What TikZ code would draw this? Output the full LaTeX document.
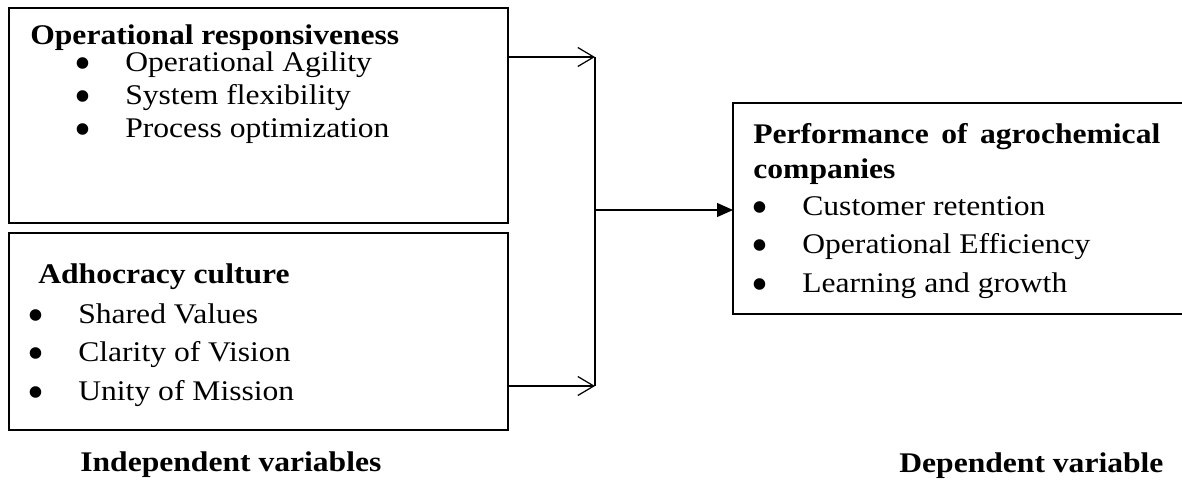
\documentclass[tikz,border=0pt]{standalone}
\usepackage{fontspec}
\setmainfont[FakeStretch=1.11]{Liberation Serif}
\newfontfamily\bltfont{Liberation Serif}
\usetikzlibrary{arrows.meta}

\newcommand{\blt}{\makebox[1.68cm][c]{\bltfont\raisebox{-0.16cm}[0pt][0pt]{\scalebox{1.7}{\textbullet}}}}

\tikzset{
    varbox/.style={draw, line width=1.1pt, inner sep=0pt, outer sep=0pt, anchor=north west},
    txt/.style={anchor=base west, inner sep=0pt, font=\fontsize{16.2}{18}\selectfont},
    head/.style={txt, font=\fontsize{16.2}{18}\selectfont\bfseries},
    link/.style={line width=0.7pt},
}

\begin{document}
\begin{tikzpicture}[x=0.02cm, y=-0.02cm]
            \useasboundingbox (0,0) rectangle (1182,480);

            % variable boxes
            \node[varbox, minimum width=9.98cm, minimum height=4.3cm]  (resp)  at (9,8)     {};
            \node[varbox, minimum width=9.98cm, minimum height=3.94cm] (adhoc) at (9,233)   {};
            \node[varbox, minimum width=9.1cm,  minimum height=4.22cm] (perf)  at (733,103) {};

            % box texts
            \node[head] (resptitle) at (30,44) {Operational responsiveness};
            \foreach \lbl [count=\i] in {Operational Agility, System flexibility, Process optimization}
                \node[txt] (resp\i) at (41,{38+33*\i}) {\blt\lbl};

            \node[head] (adhoctitle) at (38,283) {Adhocracy culture};
            \foreach \lbl [count=\i] in {Shared Values, Clarity of Vision, Unity of Mission}
                \node[txt] (adhoc\i) at (-6,{284.5+38.5*\i}) {\blt\lbl};

            \node[head] (perftitle) at (753,143) {\makebox[8.14cm][s]{Performance of agrochemical}};
            \node[head] (perftitle2) at (753,178) {companies};
            \foreach \lbl [count=\i] in {Customer retention, Operational Efficiency, Learning and growth}
                \node[txt] (perf\i) at (718,{176.5+38.5*\i}) {\blt\lbl};

            % captions
            \node[head] (indep) at (80,471)  {Independent variables};
            \node[head] (dep)   at (899,472) {Dependent variable};

            % connectors
            \coordinate (jtop) at (595,57);
            \coordinate (jmid) at (595,210);
            \coordinate (jbot) at (595,386);

            \draw[link, -{Straight Barb[length=0.32cm, width=0.38cm]}] (resp.east |- jtop) -- (jtop);
            \draw[link, -{Straight Barb[length=0.32cm, width=0.38cm]}] (adhoc.east |- jbot) -- (jbot);
            \draw[link] (jtop) -- (jbot);
            \draw[link, -{Triangle[length=0.32cm, width=0.28cm]}] (jmid) -- (perf.west |- jmid);
        \end{tikzpicture}
\end{document}
